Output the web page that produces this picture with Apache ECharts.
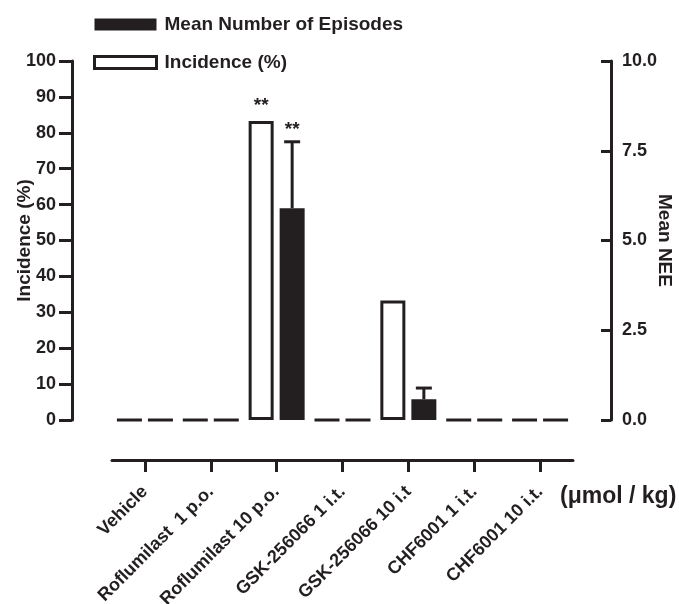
<!DOCTYPE html>
<html>
<head>
<meta charset="utf-8">
<script src="https://cdn.jsdelivr.net/npm/echarts@6/dist/echarts.min.js"></script>
<style>
html,body{margin:0;padding:0;background:#fff;}
#chart{width:679px;height:604px;}
</style>
</head>
<body>
<div id="chart"></div>
<script>
const categories = ['Vehicle', 'Roflumilast  1 p.o.', 'Roflumilast 10 p.o.', 'GSK-256066 1 i.t.', 'GSK-256066 10 i.t', 'CHF6001 1 i.t.', 'CHF6001 10 i.t.'];
const incidence = [0, 0, 83.3, 0, 33.3, 0, 0];
const meanNEE = [0, 0, 5.9, 0, 0.58, 0, 0];
const neeSEM = [0, 0, 1.85, 0, 0.31, 0, 0];
const incidenceSig = ['', '', '**', '', '', '', ''];
const neeSig = ['', '', '**', '', '', '', ''];
const leftAxis = {min: 0, max: 100, interval: 10};
const rightAxis = {min: 0, max: 10, interval: 2.5};

const INK = '#231f20';
const FONT = '"Liberation Sans", Arial, sans-serif';
const BAR_W = 25;

const chart = echarts.init(document.getElementById('chart'), null, {renderer: 'canvas'});

const errData = categories.map((c, i) => [i, meanNEE[i] + neeSEM[i], meanNEE[i]]);

const option = {
  backgroundColor: '#fff',
  animation: false,
  textStyle: {fontFamily: FONT, color: INK},
  legend: {
    orient: 'vertical',
    left: 93,
    top: 15,
    padding: 0,
    itemWidth: 62,
    itemHeight: 12,
    itemGap: 19,
    selectedMode: false,
    textStyle: {fontFamily: FONT, fontWeight: 'bold', fontSize: 19, color: INK, padding: [0, 0, 0, 3]},
    data: [
      {name: 'Mean Number of Episodes', icon: 'rect', itemStyle: {color: INK, borderWidth: 0}},
      {name: 'Incidence (%)', icon: 'rect', itemStyle: {color: '#fff', borderColor: INK, borderWidth: 3}}
    ]
  },
  grid: {left: 112, right: 106, top: 61, bottom: 184, containLabel: false, outerBoundsMode: 'none'},
  xAxis: {
    type: 'category',
    data: categories,
    offset: 40,
    axisLine: {onZero: false, lineStyle: {color: INK, width: 3}},
    axisTick: {show: true, alignWithLabel: true, length: 12, lineStyle: {color: INK, width: 3}},
    axisLabel: {rotate: 45, margin: 29, interval: 0, fontFamily: FONT, fontWeight: 'bold', fontSize: 18, color: INK},
    splitLine: {show: false}
  },
  yAxis: [
    {
      type: 'value',
      position: 'left',
      min: leftAxis.min, max: leftAxis.max, interval: leftAxis.interval,
      offset: 40,
      name: 'Incidence (%)',
      nameLocation: 'middle',
      nameRotate: 90,
      nameGap: 38,
      nameMoveOverlap: false,
      nameTextStyle: {fontFamily: FONT, fontWeight: 'bold', fontSize: 19, color: INK},
      axisLine: {show: true, onZero: false, lineStyle: {color: INK, width: 3}},
      axisTick: {show: true, length: 13, lineStyle: {color: INK, width: 3}},
      axisLabel: {margin: 16, fontFamily: FONT, fontWeight: 'bold', fontSize: 18, color: INK},
      splitLine: {show: false}
    },
    {
      type: 'value',
      position: 'right',
      min: rightAxis.min, max: rightAxis.max, interval: rightAxis.interval,
      offset: 38,
      name: 'Mean NEE',
      nameLocation: 'middle',
      nameRotate: -90,
      nameGap: 44,
      nameMoveOverlap: false,
      nameTextStyle: {fontFamily: FONT, fontWeight: 'bold', fontSize: 19, color: INK},
      axisLine: {show: true, onZero: false, lineStyle: {color: INK, width: 3}},
      axisTick: {show: true, inside: true, length: 10, lineStyle: {color: INK, width: 3}},
      axisLabel: {margin: 11, fontFamily: FONT, fontWeight: 'bold', fontSize: 18, color: INK,
        formatter: v => v.toFixed(1)},
      splitLine: {show: false}
    }
  ],
  series: [
    {
      name: 'Incidence (%)',
      type: 'bar',
      yAxisIndex: 0,
      data: incidence,
      barWidth: BAR_W,
      barGap: '24%',
      itemStyle: {color: '#fff', borderColor: INK, borderWidth: 3},
      label: {
        show: true, position: 'top', distance: 6,
        fontFamily: FONT, fontWeight: 'bold', fontSize: 19, color: INK,
        formatter: p => incidenceSig[p.dataIndex]
      },
      z: 2
    },
    {
      name: 'Mean Number of Episodes',
      type: 'bar',
      yAxisIndex: 1,
      data: meanNEE,
      barWidth: BAR_W,
      barGap: '24%',
      itemStyle: {color: INK, borderColor: INK, borderWidth: 3},
      z: 2
    },
    {
      name: 'err',
      type: 'custom',
      yAxisIndex: 1,
      data: errData,
      z: 3,
      renderItem: function (params, api) {
        const idx = api.value(0);
        const top = api.value(1);
        const mean = api.value(2);
        if (!(top > mean)) return null;
        const pTop = api.coord([idx, top]);
        const pBase = api.coord([idx, mean]);
        const x = pTop[0] + 15.5;
        const children = [
          {type: 'line', shape: {x1: x, y1: pBase[1], x2: x, y2: pTop[1]}, style: {stroke: INK, lineWidth: 3}},
          {type: 'line', shape: {x1: x - 8, y1: pTop[1], x2: x + 8, y2: pTop[1]}, style: {stroke: INK, lineWidth: 3}}
        ];
        const s = neeSig[idx];
        if (s) {
          children.push({type: 'text', style: {text: s, x: x, y: pTop[1] - 3, align: 'center', verticalAlign: 'bottom',
            font: 'bold 19px ' + FONT, fill: INK}});
        }
        return {type: 'group', children: children};
      }
    }
  ],
  graphic: [
    {type: 'text', left: 560, top: 485, style: {text: '(\u03bcmol / kg)', font: 'bold 23px ' + FONT, fill: INK}}
  ]
};
chart.setOption(option);
</script>
</body>
</html>
